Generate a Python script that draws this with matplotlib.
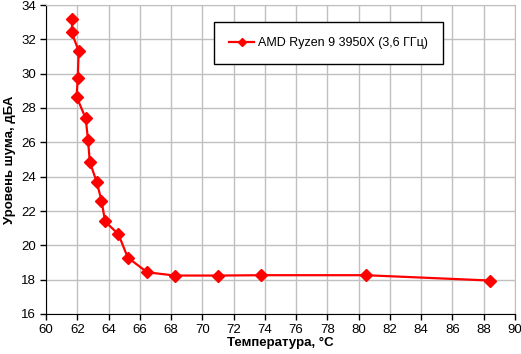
import matplotlib
matplotlib.use("Agg")
import matplotlib.pyplot as plt

plt.rcParams['font.family'] = ['Liberation Sans', 'DejaVu Sans']

# data
temp = [61.69, 61.64, 62.09, 62.03, 61.96, 62.54, 62.69, 62.80, 63.24, 63.55,
        63.78, 64.63, 65.23, 66.47, 68.24, 71.02, 73.78, 80.45, 88.40]
noise = [33.17, 32.41, 31.32, 29.76, 28.65, 27.39, 26.13, 24.86, 23.70, 22.61,
         21.39, 20.65, 19.29, 18.43, 18.24, 18.24, 18.26, 18.26, 17.95]
series_name = 'AMD Ryzen 9 3950X (3,6 ГГц)'
xticks = list(range(60, 91, 2))
yticks = list(range(16, 35, 2))

fig = plt.figure(figsize=(5.21, 3.54), dpi=100)
ax = fig.add_axes([46 / 521, 40 / 354, 469 / 521, 309 / 354])

ax.plot(temp, noise, color='#ff0000', lw=1.6, marker='D', ms=6.5,
        markeredgecolor='#ff0000', label=series_name)

ax.set_xlim(60, 90)
ax.set_ylim(16, 34)
ax.set_xticks(xticks)
ax.set_yticks(yticks)
ax.grid(True, color='#c0c0c0', lw=1)
ax.set_axisbelow(True)

for s in ['top', 'right']:
    ax.spines[s].set_color('#c0c0c0')
for s in ['left', 'bottom']:
    ax.spines[s].set_color('black')
ax.tick_params(direction='out', length=4, width=1, labelsize=9.5, pad=3)

ax.set_xlabel('Температура, °C', fontsize=9.5, fontweight='bold', labelpad=1)
ax.set_ylabel('Уровень шума, дБА', fontsize=9.5, fontweight='bold', labelpad=4)

# legend box placed where the reference has it
leg = ax.legend(loc='upper left', bbox_to_anchor=((214 - 46) / 469, (354 - 40 - 22) / 309),
                borderaxespad=0, fancybox=False, framealpha=1, edgecolor='black',
                fontsize=9, handlelength=2.0, handletextpad=0.3, borderpad=1.2,
                markerscale=0.7)
leg.get_frame().set_linewidth(1)

fig.savefig('out.png', dpi=100)
